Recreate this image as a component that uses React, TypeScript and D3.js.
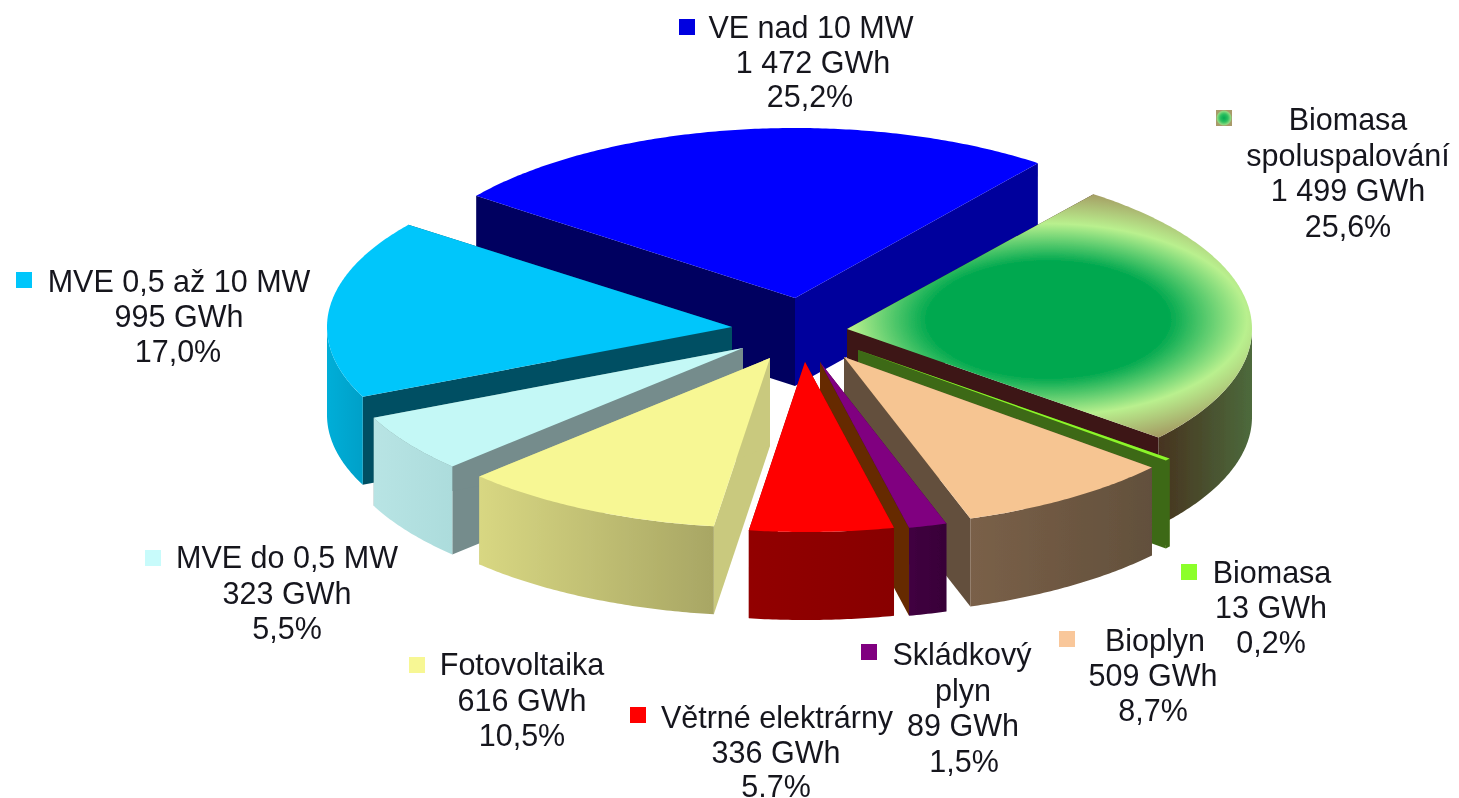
import React from "react";
import * as d3 from "d3";

// ---- data ----
const categories = ["Biomasa spoluspalování", "Biomasa", "Bioplyn", "Skládkový plyn", "Větrné elektrárny", "Fotovoltaika", "MVE do 0,5 MW", "MVE 0,5 až 10 MW", "VE nad 10 MW"];
const gwh = [1499, 13, 509, 89, 336, 616, 323, 995, 1472];
const labelLines = [
  ["Biomasa", "spoluspalování", "1 499 GWh", "25,6%"],
  ["Biomasa", "13 GWh", "0,2%"],
  ["Bioplyn", "509 GWh", "8,7%"],
  ["Skládkový", "plyn", "89 GWh", "1,5%"],
  ["Větrné elektrárny", "336 GWh", "5.7%"],
  ["Fotovoltaika", "616 GWh", "10,5%"],
  ["MVE do 0,5 MW", "323 GWh", "5,5%"],
  ["MVE 0,5 až 10 MW", "995 GWh", "17,0%"],
  ["VE nad 10 MW", "1 472 GWh", "25,2%"],
];

// ---- style ----
const topColors = ["url(#cofire)", "#8cf52a", "#f6c592", "#800080", "#ff0000", "#f7f794", "#c4f8f6", "#00c6fb", "#0000ff"];
const keyColors = ["url(#cofireKey)", "#8cff2a", "#f9c79a", "#800080", "#ff0000", "#f7f794", "#c8fbfb", "#00c6fb", "#0000e0"];
const wallFrom = ["#46331f", "#3e6914", "#7a6048", "#400040", "#920000", "#d8d782", "#b8e4e4", "#00aed8", "#00009c"];
const wallTo = ["#4d6a3c", "#3e6914", "#62503c", "#380038", "#880000", "#a8a664", "#acdcdc", "#00a0c8", "#00009c"];
const startFaceColors = ["#3c1414", "#3e6914", "#64503c", "#3c0040", "#8c0000", "#c9c97e", "#748c8c", "#005064", "#000060"];
const endFaceColors = ["#3c1414", "#3e6914", "#64503c", "#662a00", "#8c0000", "#c9c97e", "#748c8c", "#005064", "#00009c"];

// ---- layout ----
const W = 1459, H = 798;
const cx = 789, cy = 328, rx = 405, ry = 170, depth = 88;
const firstAngle = (37.5 * Math.PI) / 180;
const explodeDx = [58, 69, 55, 31, 16, -19, -46, -57, 6];
const explodeDy = [1, 22, 29, 34, 34, 30, 20, -1, -30];
const widthScale = [1, 1, 1, 1, 1, 1, 1, 1, 0.985];
const keyX = [1224, 1189, 1067, 869, 638, 417, 153, 24, 687];
const keyY = [118, 572, 639, 652, 715, 665, 558, 280, 27];
const labelBase = [130, 583, 651, 665, 728, 675, 568, 292, 38];
const labelGap = [35.5, 35, 35, 35.5, 34.5, 35.5, 35.5, 35, 34.5];
const labelX = [
  [1348, 1348, 1348, 1348],
  [1272, 1271, 1271],
  [1155, 1153, 1153],
  [962, 963, 963, 964],
  [777, 776, 776],
  [522, 522, 522],
  [287, 287, 287],
  [179, 179, 178],
  [811, 813, 810],
];

const px = d3.scaleLinear().domain([-1, 1]).range([-rx, rx]);
const py = d3.scaleLinear().domain([-1, 1]).range([-ry, ry]);
const pieGen = d3.pie<number>().sort(null).startAngle(firstAngle).endAngle(firstAngle + 2 * Math.PI);
const arcs = pieGen(gwh);
const line = d3.line<[number, number]>();

const rim = (a0: number, a1: number, ox: number, oy: number, k: number): [number, number][] => {
  const n = Math.max(2, Math.ceil((a1 - a0) / 0.01));
  return d3.range(n + 1).map((i) => {
    const a = a0 + ((a1 - a0) * i) / n;
    return [ox + k * px(Math.sin(a)), oy + py(-Math.cos(a))] as [number, number];
  });
};

const slices = arcs
  .map((arc, i) => {
    const ox = cx + explodeDx[i];
    const oy = cy + explodeDy[i];
    const k = widthScale[i];
    const mid = (arc.startAngle + arc.endAngle) / 2;
    const edge = rim(arc.startAngle, arc.endAngle, ox, oy, k);
    const top = line([[ox, oy], ...edge])! + "Z";
    const face = (p: [number, number]) =>
      line([[ox, oy], p, [p[0], p[1] + depth], [ox, oy + depth]])! + "Z";
    const startFace = face(edge[0]);
    const endFace = face(edge[edge.length - 1]);
    // the outer wall shows only on the near half of the rim
    const lo = Math.max(arc.startAngle, Math.PI / 2);
    const hi = Math.min(arc.endAngle, (3 * Math.PI) / 2);
    let wall: string | null = null;
    let x0 = 0, x1 = 1;
    if (hi > lo) {
      const r = rim(lo, hi, ox, oy, k);
      const b = r.map(([x, y]) => [x, y + depth] as [number, number]).reverse();
      wall = line([...r, ...b])! + "Z";
      const ext = d3.extent(r, (d) => d[0]) as [number, number];
      x0 = ext[0];
      x1 = ext[1];
    }
    return { i, mid, ox, oy, top, startFace, endFace, wall, x0, x1 };
  })
  .sort((a, b) => Math.cos(b.mid) - Math.cos(a.mid));

const cofire = slices.find((s) => s.i === 0)!;
const gcx = cofire.ox + px(Math.sin(cofire.mid)) * 0.5;
const gcy = cofire.oy + py(-Math.cos(cofire.mid)) * 0.5;

export default function App() {
  return (
    <svg
      width={W}
      height={H}
      viewBox={`0 0 ${W} ${H}`}
      style={{ position: "absolute", left: 0, top: 0, background: "#fff" }}
      fontFamily="'Liberation Sans', Arial, sans-serif"
    >
      <defs>
        <filter id="soft" x="0" y="0" width="100%" height="100%">
          <feGaussianBlur stdDeviation="0.55" />
        </filter>
        <radialGradient
          id="cofire"
          gradientUnits="userSpaceOnUse"
          cx={0}
          cy={0}
          r={1}
          gradientTransform={`translate(${gcx} ${gcy}) scale(${280} ${135})`}
        >
          <stop offset="0" stopColor="#00a84f" />
          <stop offset="0.43" stopColor="#00a84f" />
          <stop offset="0.71" stopColor="#b9f08e" />
          <stop offset="1" stopColor="#a08a5a" />
        </radialGradient>
        <radialGradient id="cofireKey">
          <stop offset="0" stopColor="#00a84f" />
          <stop offset="0.5" stopColor="#30c060" />
          <stop offset="0.85" stopColor="#90d880" />
          <stop offset="1" stopColor="#a89a6a" />
        </radialGradient>
        {slices.map((s) => (
          <linearGradient key={s.i} id={`wall${s.i}`} gradientUnits="userSpaceOnUse" x1={s.x0} x2={s.x1} y1={0} y2={0}>
            <stop offset="0" stopColor={wallFrom[s.i]} />
            <stop offset="1" stopColor={wallTo[s.i]} />
          </linearGradient>
        ))}
      </defs>
      <g filter="url(#soft)">
        {slices.map((s) => (
          <g key={s.i} data-name={categories[s.i]}>
            <path d={s.startFace} fill={startFaceColors[s.i]} />
            <path d={s.endFace} fill={endFaceColors[s.i]} />
            {s.wall && <path d={s.wall} fill={`url(#wall${s.i})`} />}
            <path d={s.top} fill={topColors[s.i]} />
          </g>
        ))}
        {labelLines.map((lines, i) => (
          <g key={i}>
            <rect x={keyX[i] - 8} y={keyY[i] - 8} width={16} height={16} fill={keyColors[i]} />
            {lines.map((t, j) => (
              <text
                key={j}
                x={labelX[i][j]}
                y={labelBase[i] + j * labelGap[i]}
                textAnchor="middle"
                fontSize={30.5}
                fill="#14141e"
              >
                {t}
              </text>
            ))}
          </g>
        ))}
      </g>
    </svg>
  );
}
